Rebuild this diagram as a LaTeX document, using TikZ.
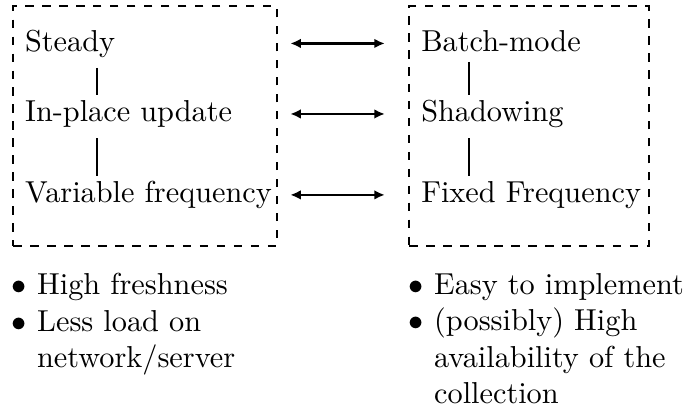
\documentclass[tikz,border=0pt]{standalone}
\usetikzlibrary{arrows.meta}

\begin{document}
\begin{tikzpicture}
    \pgfmathsetmacro{\picwidth}{8.016}
    \pgfmathsetmacro{\picheight}{4.710}
    \pgfmathsetmacro{\boxheight}{2.784}
    \pgfmathsetmacro{\rowA}{4.118}
    \pgfmathsetmacro{\rowB}{3.300}
    \pgfmathsetmacro{\rowC}{2.361}
    \pgfmathsetmacro{\leftx}{0.284}
    \pgfmathsetmacro{\rightx}{4.880}
    \tikzset{
        modebox/.style={draw, line width=0.75pt, dash pattern=on 2.8pt off 2.8pt, inner sep=0, minimum height=\boxheight cm},
        entry/.style={inner sep=0, anchor=base west},
        stem/.style={line width=0.75pt, shorten <=3.3pt, shorten >=1.5pt},
        link/.style={line width=0.75pt, {Latex[length=3.5pt,width=3.2pt]}-{Latex[length=3.5pt,width=3.2pt]}},
        notes/.style={inner sep=0, anchor=north west, align=left}
    }
    \useasboundingbox (0,0) rectangle (\picwidth,\picheight);
    % the two dashed frames
    \node[modebox, minimum width=3.056cm](leftbox) at (1.682,3.248){};
    \node[modebox, minimum width=2.781cm](rightbox) at (6.139,3.248){};
    % left column
    \node[entry](steady) at (\leftx,\rowA){Steady};
    \node[entry](inplace) at (\leftx,\rowB){In-place update};
    \node[entry](variable) at (\leftx,\rowC){Variable frequency};
    % right column
    \node[entry](batch) at (\rightx,\rowA){Batch-mode};
    \node[entry](shadow) at (\rightx,\rowB){Shadowing};
    \node[entry](fixed) at (\rightx,\rowC){Fixed Frequency};
    \coordinate (lstem) at (1.125,0);
    \coordinate (rstem) at (5.441,0);
    \draw[stem] (steady.south -| lstem) -- (inplace.north -| lstem);
    \draw[stem] (inplace.south -| lstem) -- (variable.north -| lstem);
    \draw[stem] (batch.south -| rstem) -- (shadow.north -| rstem);
    \draw[stem] (shadow.south -| rstem) -- (fixed.north -| rstem);
    % correspondences
    \draw[link] ([xshift=4.1pt]leftbox.east |- steady) -- ([xshift=-7.7pt]rightbox.west |- steady);
    \draw[link] ([xshift=4.1pt]leftbox.east |- inplace) -- ([xshift=-7.7pt]rightbox.west |- inplace);
    \draw[link] ([xshift=4.1pt]leftbox.east |- variable) -- ([xshift=-7.7pt]rightbox.west |- variable);
    % pros
    \node[notes](leftnotes) at (0.131,1.543){$\bullet$ High freshness\\
        $\bullet$ Less load on\\
        \phantom{$\bullet$\ }network/server};
    \node[notes](rightnotes) at (4.737,1.543){$\bullet$ Easy to implement\\
        $\bullet$ (possibly) High\\
        \phantom{$\bullet$\ }availability of the\\
        \phantom{$\bullet$\ }collection};
\end{tikzpicture}
\end{document}
